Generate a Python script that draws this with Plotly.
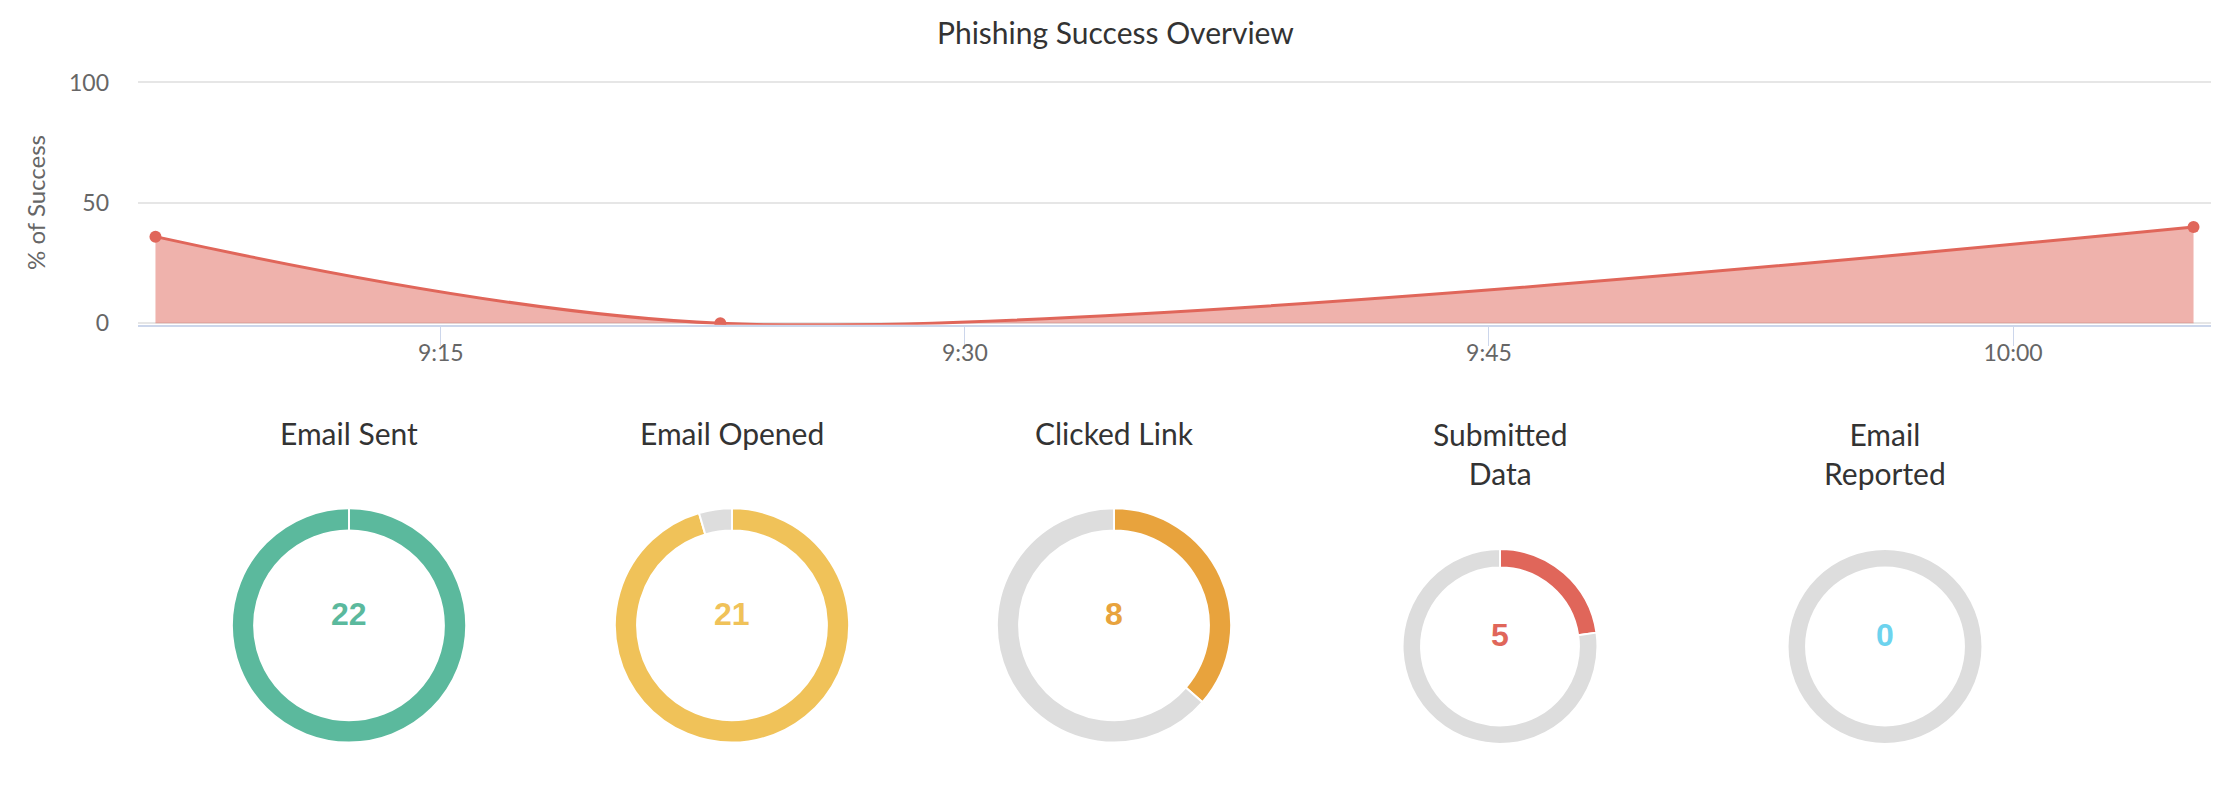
import plotly.graph_objects as go

# timeline data
times = ["2024-01-01 09:06:50", "2024-01-01 09:23:00", "2024-01-01 10:05:10"]
success_pct = [36, 0, 40]

# donut data
stage_names = ["Email Sent", "Email Opened", "Clicked Link", "Submitted<br>Data", "Email<br>Reported"]
stage_counts = [22, 21, 8, 5, 0]
total_sent = 22
stage_colors = ["#5bb99d", "#f0c259", "#e8a33d", "#e0665a", "#6dd3ee"]

W, H = 2222, 788
GREY = "#dddddd"


def px(x):
    return x / W


def py(y):
    # target pixel row -> paper fraction (page adds a small offset/squeeze vertically)
    return 1 - (1.0378 * y - 15.3) / H


fig = go.Figure()

fig.add_trace(go.Scatter(
    x=times, y=success_pct, mode="lines+markers",
    line=dict(color="#e0665a", width=3, shape="spline", smoothing=0.9),
    marker=dict(color="#e0665a", size=12),
    fill="tozeroy", fillcolor="rgba(224,102,90,0.5)",
    hoverinfo="skip", showlegend=False,
))

# pie geometry (centre x, centre y, radius) in pixels
pie_geo = [(349, 624, 119), (732, 624, 119), (1114, 624, 119), (1500, 645, 99), (1885, 645, 99)]

for i, name in enumerate(stage_names):
    cx, cy, r = pie_geo[i]
    v = stage_counts[i]
    R = r * 1.018
    cyp = py(cy)
    fig.add_trace(go.Pie(
        values=[v, total_sent - v],
        marker=dict(colors=[stage_colors[i], GREY], line=dict(color="white", width=2)),
        hole=0.81, sort=False, direction="clockwise", rotation=0,
        textinfo="none", hoverinfo="skip", showlegend=False,
        domain=dict(x=[px(cx - R), px(cx + R)], y=[cyp - R / H, cyp + R / H]),
    ))
    two_line = "<br>" in name
    fig.add_annotation(
        text=name, x=px(cx), y=py(453 if two_line else 432), xref="paper", yref="paper",
        showarrow=False, xanchor="center", yanchor="middle",
        font=dict(family="Lato", size=30, color="#333333"),
    )
    # the count sits a little above the ring centre
    fig.add_annotation(
        text="<b>%d</b>" % v, x=px(cx), y=py(cy - 11), xref="paper", yref="paper",
        showarrow=False, xanchor="center", yanchor="middle",
        font=dict(family="Liberation Sans", size=32, color=stage_colors[i]),
    )

fig.add_annotation(
    text="Phishing Success Overview", x=px(1115), y=py(33), xref="paper", yref="paper",
    showarrow=False, xanchor="center", yanchor="middle",
    font=dict(family="Lato", size=30, color="#333333"),
)
fig.add_annotation(
    text="% of Success", x=px(36), y=py(203), xref="paper", yref="paper",
    showarrow=False, xanchor="center", yanchor="middle", textangle=-90,
    font=dict(family="Lato", size=24, color="#666666"),
)

fig.update_layout(
    width=W, height=H,
    margin=dict(l=0, r=0, t=0, b=0),
    paper_bgcolor="white", plot_bgcolor="white",
    xaxis=dict(
        domain=[px(138), px(2211)],
        type="date",
        range=["2024-01-01 09:06:20", "2024-01-01 10:05:40"],
        tickvals=["2024-01-01 09:15", "2024-01-01 09:30", "2024-01-01 09:45", "2024-01-01 10:00"],
        ticktext=["9:15", "9:30", "9:45", "10:00"],
        ticks="outside", ticklen=19, tickcolor="#ccd6eb", tickwidth=1,
        showline=True, linecolor="#ccd6eb", linewidth=2,
        showgrid=False, zeroline=False,
        ticklabelstandoff=-12,
        tickfont=dict(family="Lato", size=23, color="#666666"),
    ),
    yaxis=dict(
        domain=[py(323 + 0.6 * 2.4), py(83 - 0.5 * 2.4)],
        range=[-0.6, 100.5],
        tickvals=[0, 50, 100],
        showgrid=True, gridcolor="#e6e6e6", gridwidth=2,
        zeroline=False, showline=False,
        ticklabelstandoff=28,
        tickfont=dict(family="Lato", size=23, color="#666666"),
    ),
)

fig.write_html("out.html", config={"displayModeBar": False},
               post_script="document.body.style.margin='0';")
